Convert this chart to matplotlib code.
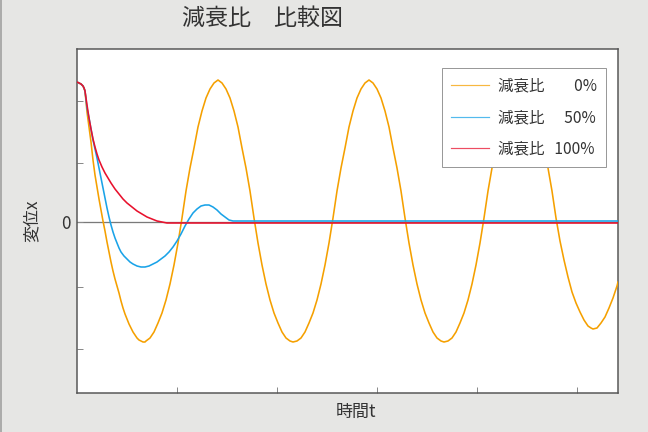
import matplotlib
matplotlib.use("Agg")
import matplotlib.pyplot as plt
from matplotlib.lines import Line2D

plt.rcParams['font.family'] = ['Noto Sans CJK JP', 'DejaVu Sans']

# time t and displacement x (arbitrary units)
# damping ratio 0%
t_0 = [0, 2, 4, 6, 7, 8, 10, 12, 14, 16, 18, 20, 22, 24, 26, 28, 30, 32, 34, 36,
       38, 40, 42, 44, 46, 48, 50, 52, 54, 56, 58, 60, 62, 64, 66, 68,
       69, 73, 77, 81, 85, 89, 93, 97, 101, 105, 109, 113, 117, 121, 125, 129,
       133, 137, 141,
       145, 149, 153, 157, 161, 165, 169, 173, 177, 181, 185, 189, 193, 197,
       201, 205, 209, 213, 216,
       220, 224, 228, 232, 236, 240, 244, 248, 252, 256, 260, 264, 268, 272,
       276, 280, 284, 288, 292,
       296, 300, 304, 308, 312, 316, 320, 324, 328, 332, 336, 340, 344, 348,
       352, 356, 360, 364, 367,
       371, 375, 379, 383, 387, 391, 395, 399, 403, 407, 411, 415, 419, 423,
       427, 431, 435, 439, 443,
       447, 451, 455, 459, 463, 467, 471, 475, 479, 483, 487, 491, 495, 499,
       503, 507, 511, 514, 516,
       520, 524, 528, 532, 536, 540, 541]
x_0 = [140, 139, 138, 136, 134, 131, 110, 95, 80, 62, 47, 35, 23, 12, 1, -9, -20, -30, -40, -49,
       -57, -64, -71, -79, -86, -92, -97, -102, -106, -110, -113, -116, -118, -119, -120, -120,
       -119, -116, -110, -101, -91, -78, -62, -43, -21, 4, 31, 54, 74, 95, 111, 124,
       133, 139, 142,
       139, 133, 124, 111, 95, 74, 54, 31, 4, -21, -43, -62, -78, -91,
       -101, -110, -116, -119, -120,
       -119, -116, -110, -101, -91, -78, -62, -43, -21, 4, 31, 54, 74, 95,
       111, 124, 133, 139, 142,
       139, 133, 124, 111, 95, 74, 54, 31, 4, -21, -43, -62, -78, -91,
       -101, -110, -116, -119, -120,
       -119, -116, -110, -101, -91, -78, -62, -43, -21, 4, 31, 54, 74, 95,
       111, 124, 133, 139, 142,
       139, 133, 124, 111, 95, 74, 54, 31, 4, -19, -38, -55, -70, -81,
       -90, -98, -104, -106, -107,
       -106, -101, -95, -86, -76, -64, -60]

# damping ratio 50%
t_50 = [0, 2, 4, 6, 7, 8, 10, 12, 14, 16, 18, 20, 22, 24, 26, 28, 30, 32, 34, 36,
        38, 40, 42, 44, 47, 50, 53, 56, 60, 64, 68, 72, 76, 80, 84, 88, 92, 96,
        100, 104, 108, 112, 116, 120, 124, 128, 132, 136, 140, 144, 148, 152,
        156, 160, 541]
x_50 = [140, 139, 138, 136, 134, 131, 114, 104, 93, 82, 73, 64, 54, 44, 34, 24, 14, 5, -3, -10,
        -16, -21, -26, -30, -34, -37, -40, -42, -44, -45, -45, -44, -42, -40, -37, -34, -30, -25,
        -19, -12, -4, 3, 9, 13, 16, 17, 17, 15, 12, 8, 5, 2,
        1, 1, 1]

# damping ratio 100%
t_100 = [0, 2, 4, 6, 7, 8, 10, 12, 14, 16, 18, 20, 22, 25, 28, 31, 34, 38, 42, 46,
         50, 55, 60, 65, 70, 75, 80, 85, 90, 95, 541]
x_100 = [140, 139, 138, 136, 134, 131, 117, 104, 93, 83, 75, 68, 62, 55, 49, 44, 39, 33, 28, 23,
         19, 15, 11, 8, 5, 3, 1, 0, -1, -1, -1]

labels = ['減衰比\u2007\u2007\u20070%', '減衰比\u2007\u200750%', '減衰比\u2007100%']
colors = ['#f5a000', '#1aa3e8', '#e8112d']

x_ticks = [100, 200, 300, 400, 500]
y_ticks = [-127, -65, 0, 59, 121]

fig = plt.figure(figsize=(9, 6), dpi=72, facecolor='#e6e6e4')
ax = fig.add_axes([77 / 648, 39 / 432, 541 / 648, 344 / 432])
ax.set_facecolor('white')

ax.axhline(0, color='#7a7a7a', lw=1.3, zorder=1)
ax.plot(t_0, x_0, color=colors[0], lw=1.6, zorder=3)
ax.plot(t_50, x_50, color=colors[1], lw=1.6, zorder=4)
ax.plot(t_100, x_100, color=colors[2], lw=1.6, zorder=5)

ax.set_xlim(0, 541)
ax.set_ylim(-171, 173)
ax.set_xticks(x_ticks)
ax.set_xticklabels([])
ax.set_yticks(y_ticks)
ax.set_yticklabels(['', '', '0', '', ''])
ax.tick_params(axis='both', direction='in', length=6, width=1, color='#8a8a8a',
               labelsize=17, labelcolor='#333333')
ax.tick_params(axis='y', pad=6)
for sp in ax.spines.values():
    sp.set_color('#555555')
    sp.set_linewidth(1.5)

handles = [Line2D([], [], color=c, lw=1.2, alpha=0.75) for c in colors]
leg = ax.legend(handles, labels, loc='upper right', bbox_to_anchor=(0.978, 0.945),
                borderaxespad=0, fontsize=15.5, handlelength=2.45, handletextpad=0.55,
                labelspacing=0.95, borderpad=0.6, fancybox=False, framealpha=1,
                edgecolor='#999999')
for txt in leg.get_texts():
    txt.set_color('#333333')

fig.text(262 / 648, 1 - 18 / 432, '減衰比\u3000比較図', ha='center', va='center',
         fontsize=23, color='#333333')
fig.text(32 / 648, 1 - 221 / 432, '変位x', ha='center', va='center',
         rotation=90, fontsize=17, color='#333333')
fig.text(356 / 648, 1 - 412 / 432, '時間t', ha='center', va='center',
         fontsize=17, color='#333333')

fig.add_artist(Line2D([0.002, 0.002], [0, 1], transform=fig.transFigure,
                      color='#999999', lw=1.5))

fig.savefig('out.png', dpi=72, facecolor=fig.get_facecolor())
